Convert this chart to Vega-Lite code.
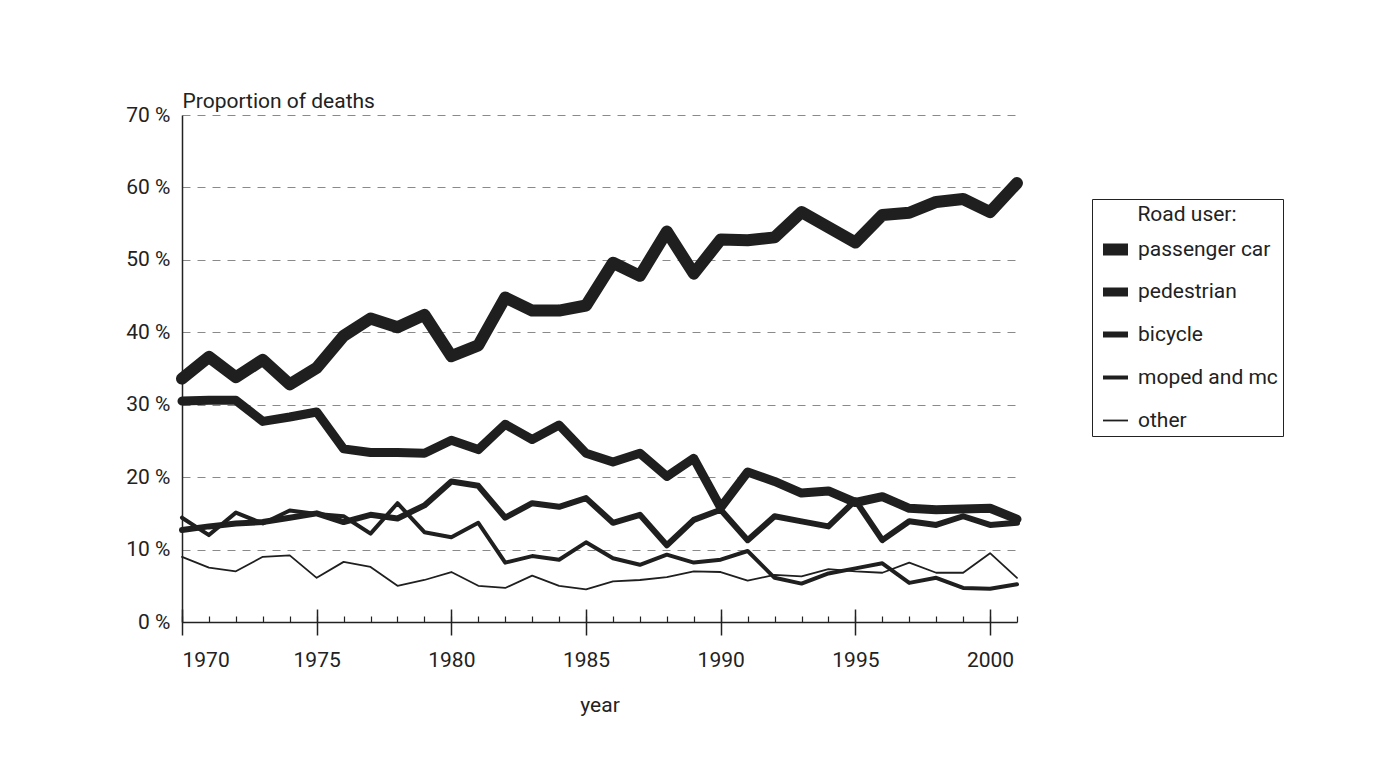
{
  "$schema": "https://vega.github.io/schema/vega-lite/v6.json",
  "width": 835,
  "height": 507,
  "autosize": {"type": "none"},
  "padding": {"left": 182, "top": 115, "right": 356, "bottom": 139},
  "background": "white",
  "config": {
    "font": "Roboto",
    "view": {"stroke": null},
    "axis": {"labelColor": "#222", "titleColor": "#222", "labelFontSize": 21, "titleFontSize": 21, "titleFontWeight": "normal"},
    "legend": {"labelColor": "#222", "titleColor": "#222"}
  },
  "data": {
    "values": [
      {"year": 1970, "passenger car": 33.6, "pedestrian": 30.5, "bicycle": 12.7, "moped and mc": 14.4, "other": 9.0},
      {"year": 1971, "passenger car": 36.6, "pedestrian": 30.6, "bicycle": 13.2, "moped and mc": 12.0, "other": 7.5},
      {"year": 1972, "passenger car": 33.8, "pedestrian": 30.6, "bicycle": 13.6, "moped and mc": 15.1, "other": 7.0},
      {"year": 1973, "passenger car": 36.2, "pedestrian": 27.7, "bicycle": 13.8, "moped and mc": 13.6, "other": 9.0},
      {"year": 1974, "passenger car": 32.8, "pedestrian": 28.3, "bicycle": 14.4, "moped and mc": 15.4, "other": 9.2},
      {"year": 1975, "passenger car": 35.1, "pedestrian": 29.0, "bicycle": 15.0, "moped and mc": 14.9, "other": 6.1},
      {"year": 1976, "passenger car": 39.5, "pedestrian": 23.9, "bicycle": 13.8, "moped and mc": 14.6, "other": 8.3},
      {"year": 1977, "passenger car": 41.9, "pedestrian": 23.4, "bicycle": 14.8, "moped and mc": 12.2, "other": 7.6},
      {"year": 1978, "passenger car": 40.7, "pedestrian": 23.4, "bicycle": 14.3, "moped and mc": 16.4, "other": 5.0},
      {"year": 1979, "passenger car": 42.4, "pedestrian": 23.3, "bicycle": 16.1, "moped and mc": 12.4, "other": 5.8},
      {"year": 1980, "passenger car": 36.7, "pedestrian": 25.1, "bicycle": 19.4, "moped and mc": 11.7, "other": 6.9},
      {"year": 1981, "passenger car": 38.2, "pedestrian": 23.8, "bicycle": 18.8, "moped and mc": 13.7, "other": 5.0},
      {"year": 1982, "passenger car": 44.8, "pedestrian": 27.3, "bicycle": 14.4, "moped and mc": 8.2, "other": 4.7},
      {"year": 1983, "passenger car": 43.0, "pedestrian": 25.2, "bicycle": 16.4, "moped and mc": 9.1, "other": 6.4},
      {"year": 1984, "passenger car": 43.0, "pedestrian": 27.2, "bicycle": 15.9, "moped and mc": 8.6, "other": 5.0},
      {"year": 1985, "passenger car": 43.7, "pedestrian": 23.3, "bicycle": 17.1, "moped and mc": 11.0, "other": 4.5},
      {"year": 1986, "passenger car": 49.6, "pedestrian": 22.1, "bicycle": 13.7, "moped and mc": 8.8, "other": 5.6},
      {"year": 1987, "passenger car": 47.8, "pedestrian": 23.3, "bicycle": 14.8, "moped and mc": 7.9, "other": 5.8},
      {"year": 1988, "passenger car": 53.9, "pedestrian": 20.1, "bicycle": 10.6, "moped and mc": 9.3, "other": 6.2},
      {"year": 1989, "passenger car": 48.1, "pedestrian": 22.6, "bicycle": 14.1, "moped and mc": 8.2, "other": 7.0},
      {"year": 1990, "passenger car": 52.8, "pedestrian": 15.8, "bicycle": 15.5, "moped and mc": 8.6, "other": 6.9},
      {"year": 1991, "passenger car": 52.7, "pedestrian": 20.7, "bicycle": 11.3, "moped and mc": 9.8, "other": 5.7},
      {"year": 1992, "passenger car": 53.1, "pedestrian": 19.4, "bicycle": 14.6, "moped and mc": 6.1, "other": 6.5},
      {"year": 1993, "passenger car": 56.6, "pedestrian": 17.8, "bicycle": 13.9, "moped and mc": 5.3, "other": 6.3},
      {"year": 1994, "passenger car": 54.5, "pedestrian": 18.1, "bicycle": 13.2, "moped and mc": 6.7, "other": 7.3},
      {"year": 1995, "passenger car": 52.4, "pedestrian": 16.5, "bicycle": 16.8, "moped and mc": 7.4, "other": 7.0},
      {"year": 1996, "passenger car": 56.2, "pedestrian": 17.3, "bicycle": 11.3, "moped and mc": 8.1, "other": 6.8},
      {"year": 1997, "passenger car": 56.5, "pedestrian": 15.7, "bicycle": 13.9, "moped and mc": 5.4, "other": 8.2},
      {"year": 1998, "passenger car": 58.0, "pedestrian": 15.5, "bicycle": 13.4, "moped and mc": 6.1, "other": 6.8},
      {"year": 1999, "passenger car": 58.4, "pedestrian": 15.6, "bicycle": 14.6, "moped and mc": 4.7, "other": 6.8},
      {"year": 2000, "passenger car": 56.6, "pedestrian": 15.7, "bicycle": 13.4, "moped and mc": 4.6, "other": 9.5},
      {"year": 2001, "passenger car": 60.6, "pedestrian": 14.2, "bicycle": 13.7, "moped and mc": 5.2, "other": 6.1}
    ]
  },
  "transform": [
    {"fold": ["passenger car", "pedestrian", "bicycle", "moped and mc", "other"], "as": ["user", "share"]}
  ],
  "layer": [
    {
      "mark": {"type": "tick", "opacity": 0},
      "encoding": {
        "x": {
          "field": "year", "type": "quantitative",
          "scale": {"domain": [1970, 2001], "nice": false, "zero": false},
          "axis": {"orient": "bottom", "values": [1970, 1975, 1980, 1985, 1990, 1995, 2000], "tickSize": -13, "tickWidth": 1.5, "tickColor": "#222", "labels": false, "domain": false, "grid": false, "title": null}
        }
      }
    },
    {
      "mark": {"type": "tick", "opacity": 0},
      "encoding": {
        "x": {
          "field": "year", "type": "quantitative",
          "scale": {"domain": [1970, 2001], "nice": false, "zero": false},
          "axis": {"orient": "bottom", "values": [1970, 1975, 1980, 1985, 1990, 1995, 2000], "format": "d", "tickSize": 13, "tickWidth": 1.5, "tickColor": "#222", "labels": true, "labelPadding": 14, "domain": false, "grid": false, "title": "year", "titlePadding": 24}
        }
      }
    },
    {
      "mark": {"type": "line", "color": "#1f1f1f", "strokeCap": "round", "strokeJoin": "round"},
      "encoding": {
        "x": {
          "field": "year", "type": "quantitative",
          "scale": {"domain": [1970, 2001], "nice": false, "zero": false},
          "axis": {"orient": "bottom", "values": [1970,1971,1972,1973,1974,1975,1976,1977,1978,1979,1980,1981,1982,1983,1984,1985,1986,1987,1988,1989,1990,1991,1992,1993,1994,1995,1996,1997,1998,1999,2000,2001], "tickSize": -6, "tickWidth": 1.2, "tickColor": "#222", "labels": false, "domain": true, "domainColor": "#222", "domainWidth": 1.5, "grid": false, "title": null}
        },
        "y": {
          "field": "share", "type": "quantitative",
          "scale": {"domain": [0, 70], "nice": false},
          "axis": {
            "values": [0, 10, 20, 30, 40, 50, 60, 70],
            "labelExpr": "datum.value + ' %'",
            "ticks": false,
            "grid": true, "gridDash": [8, 7], "gridColor": "#8a8a8a", "gridWidth": 1,
            "domainColor": "#222", "domainWidth": 1.5,
            "labelPadding": 12,
            "title": "Proportion of deaths",
            "titleAngle": 0, "titleX": 0, "titleY": -8, "titleAlign": "left", "titleBaseline": "alphabetic"
          }
        },
        "strokeWidth": {
          "field": "user", "type": "nominal",
          "sort": ["passenger car", "pedestrian", "bicycle", "moped and mc", "other"],
          "scale": {"type": "ordinal", "domain": ["passenger car", "pedestrian", "bicycle", "moped and mc", "other"], "range": [12, 9, 6, 4, 1.8]},
          "legend": {
            "title": "Road user:",
            "orient": "none", "legendX": 910, "legendY": 84,
            "direction": "vertical",
            "gridAlign": "all",
            "strokeColor": "#222", "fillColor": "white", "padding": 5,
            "titleFontSize": 21, "titleFontWeight": "normal", "titleAnchor": "middle", "titlePadding": 6,
            "labelFontSize": 21, "labelOffset": 4,
            "symbolType": "stroke", "symbolSize": 625, "symbolStrokeColor": "#1f1f1f",
            "rowPadding": 0
          }
        }
      }
    }
  ],
  "resolve": {"axis": {"x": "independent"}}
}
